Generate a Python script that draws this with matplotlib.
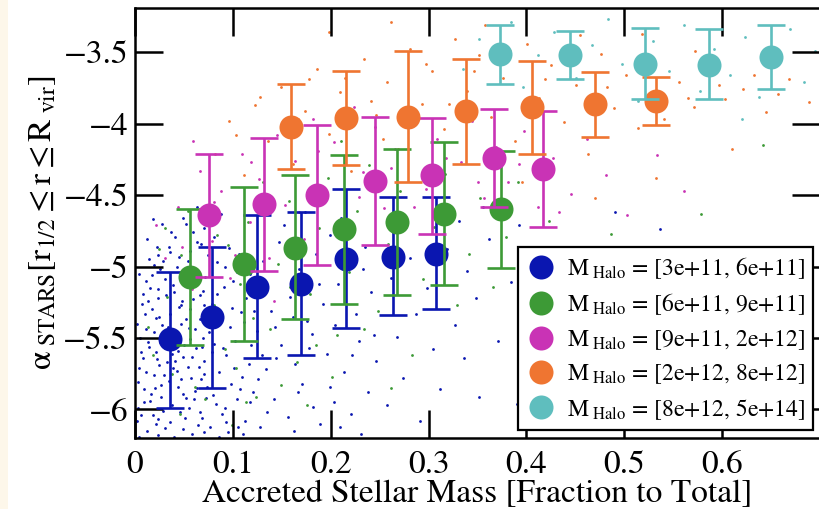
import matplotlib.pyplot as plt
from matplotlib.lines import Line2D
from matplotlib.patches import Rectangle

plt.rcParams['font.family'] = 'STIXGeneral'
plt.rcParams['mathtext.fontset'] = 'stix'

# halo mass bins
bin_labels = ['[3e+11, 6e+11]', '[6e+11, 9e+11]', '[9e+11, 2e+12]',
              '[2e+12, 8e+12]', '[8e+12, 5e+14]']
colors = ['#0a16b0', '#3d9a36', '#c933b5', '#ef7531', '#5fbebe']

# binned medians with upper / lower error limits
blue_x = [0.036, 0.079, 0.125, 0.170, 0.216, 0.264, 0.308]
blue_y = [-5.51, -5.35, -5.14, -5.12, -4.95, -4.93, -4.91]
blue_top = [-5.04, -4.86, -4.64, -4.62, -4.46, -4.51, -4.51]
blue_bot = [-5.99, -5.85, -5.64, -5.62, -5.43, -5.34, -5.30]

green_x = [0.056, 0.111, 0.164, 0.214, 0.268, 0.316, 0.374]
green_y = [-5.07, -4.98, -4.87, -4.74, -4.69, -4.63, -4.60]
green_top = [-4.60, -4.44, -4.36, -4.22, -4.18, -4.13, -4.19]
green_bot = [-5.55, -5.52, -5.37, -5.26, -5.20, -5.13, -5.01]

magenta_x = [0.076, 0.132, 0.186, 0.245, 0.304, 0.367, 0.417]
magenta_y = [-4.64, -4.56, -4.50, -4.40, -4.36, -4.24, -4.32]
magenta_top = [-4.21, -4.10, -4.01, -3.95, -3.96, -3.90, -3.91]
magenta_bot = [-5.07, -5.03, -4.99, -4.85, -4.77, -4.58, -4.72]

orange_x = [0.159, 0.216, 0.279, 0.338, 0.406, 0.470, 0.532]
orange_y = [-4.02, -3.96, -3.95, -3.91, -3.88, -3.86, -3.84]
orange_top = [-3.72, -3.63, -3.49, -3.55, -3.56, -3.64, -3.67]
orange_bot = [-4.32, -4.29, -4.41, -4.28, -4.21, -4.09, -4.01]

cyan_x = [0.373, 0.445, 0.521, 0.587, 0.650]
cyan_y = [-3.51, -3.52, -3.58, -3.59, -3.53]
cyan_top = [-3.31, -3.35, -3.33, -3.34, -3.31]
cyan_bot = [-3.72, -3.69, -3.83, -3.83, -3.76]

# individual galaxies (background cloud)
blue_pts = [
    (0.012, -6.15), (0.031, -6.13), (0.058, -6.17), (0.077, -6.12), (0.095, -6.16),
    (0.006, -6.04), (0.024, -6.07), (0.046, -6.02), (0.068, -6.06), (0.089, -6.03), (0.112, -6.08),
    (0.015, -5.94), (0.038, -5.97), (0.052, -5.92), (0.083, -5.96), (0.104, -5.93),
    (0.009, -5.86), (0.027, -5.83), (0.061, -5.87), (0.074, -5.84), (0.098, -5.82), (0.121, -5.88),
    (0.019, -5.76), (0.043, -5.73), (0.057, -5.78), (0.086, -5.74), (0.109, -5.77),
    (0.008, -5.64), (0.033, -5.67), (0.049, -5.63), (0.071, -5.66), (0.093, -5.62), (0.116, -5.68),
    (0.014, -5.56), (0.026, -5.53), (0.062, -5.57), (0.081, -5.54), (0.102, -5.52),
    (0.011, -5.44), (0.041, -5.47), (0.055, -5.43), (0.076, -5.46), (0.097, -5.42), (0.125, -5.45),
    (0.021, -5.36), (0.036, -5.33), (0.066, -5.37), (0.088, -5.34), (0.108, -5.32),
    (0.013, -5.24), (0.047, -5.27), (0.059, -5.23), (0.079, -5.26), (0.113, -5.22),
    (0.024, -5.16), (0.039, -5.13), (0.069, -5.17), (0.091, -5.14),
    (0.017, -5.06), (0.051, -5.03), (0.072, -5.07), (0.104, -5.04),
    (0.029, -4.96), (0.045, -4.93), (0.084, -4.97),
    (0.022, -4.86), (0.063, -4.83), (0.096, -4.87),
    (0.037, -4.76), (0.071, -4.73), (0.049, -4.66), (0.088, -4.63),
    (0.004, -6.19), (0.021, -6.10), (0.040, -6.19), (0.064, -6.11), (0.086, -6.19), (0.105, -6.12),
    (0.003, -5.99), (0.029, -6.01), (0.055, -5.99), (0.073, -5.92), (0.092, -5.99), (0.118, -5.95),
    (0.016, -5.89), (0.035, -5.80), (0.049, -5.89), (0.067, -5.79), (0.080, -5.90), (0.107, -5.86),
    (0.004, -5.71), (0.025, -5.69), (0.039, -5.71), (0.065, -5.70), (0.079, -5.60), (0.101, -5.71),
    (0.130, -5.62), (0.021, -5.60), (0.044, -5.59), (0.056, -5.51), (0.090, -5.57), (0.119, -5.55),
    (0.005, -5.50), (0.033, -5.49), (0.047, -5.40), (0.069, -5.50), (0.085, -5.41), (0.111, -5.39),
    (0.017, -5.30), (0.028, -5.41), (0.056, -5.30), (0.075, -5.32), (0.099, -5.29), (0.122, -5.31),
    (0.008, -5.19), (0.032, -5.20), (0.053, -5.12), (0.084, -5.19), (0.100, -5.10),
    (0.011, -5.10), (0.043, -5.00), (0.063, -5.10), (0.092, -5.00), (0.118, -5.05),
    (0.019, -4.99), (0.056, -4.89), (0.075, -4.92), (0.106, -4.91),
    (0.035, -4.86), (0.081, -4.79), (0.059, -4.76), (0.028, -4.70),
    (0.002, -6.08), (0.009, -5.95), (0.018, -6.04), (0.027, -5.91), (0.036, -6.09), (0.044, -5.84),
    (0.051, -6.06), (0.060, -5.93), (0.066, -6.02), (0.003, -5.81), (0.011, -5.74), (0.020, -5.85),
    (0.030, -5.76), (0.041, -5.66), (0.047, -5.79), (0.054, -5.70), (0.063, -5.85), (0.070, -5.75),
    (0.006, -5.60), (0.013, -5.53), (0.022, -5.65), (0.031, -5.57), (0.038, -5.61), (0.050, -5.55),
    (0.058, -5.63), (0.068, -5.56), (0.002, -5.40), (0.010, -5.33), (0.019, -5.46), (0.025, -5.35),
    (0.034, -5.42), (0.045, -5.28), (0.052, -5.37), (0.061, -5.44), (0.071, -5.27),
    (0.007, -5.26), (0.015, -5.15), (0.023, -5.22), (0.031, -5.09), (0.040, -5.18), (0.048, -5.24),
    (0.058, -5.07), (0.066, -5.20), (0.004, -5.05), (0.014, -4.95), (0.026, -5.02), (0.036, -4.90),
    (0.046, -5.08), (0.054, -4.96), (0.067, -4.84), (0.012, -4.81), (0.024, -4.92), (0.041, -4.79),
    (0.052, -4.70), (0.018, -4.67), (0.063, -4.58), (0.078, -4.69),
    (0.023, -6.18), (0.049, -6.14), (0.071, -6.16), (0.093, -6.09), (0.110, -6.17), (0.135, -6.02),
    (0.162, -6.15), (0.182, -5.98), (0.209, -6.12), (0.231, -6.17), (0.126, -5.79), (0.144, -5.64),
    (0.167, -5.88), (0.178, -5.57), (0.199, -5.84), (0.222, -5.62), (0.143, -5.42), (0.161, -5.35),
    (0.188, -5.12), (0.204, -5.41), (0.233, -5.02), (0.244, -5.48),
    (0.128, -6.12), (0.142, -5.93), (0.156, -6.05), (0.171, -5.82), (0.189, -6.10),
    (0.203, -5.95), (0.221, -6.03), (0.238, -5.88), (0.134, -5.72), (0.149, -5.55),
    (0.163, -5.68), (0.181, -5.47), (0.196, -5.61), (0.214, -5.74), (0.229, -5.52),
    (0.246, -5.66), (0.139, -5.31), (0.158, -5.21), (0.176, -5.38), (0.192, -5.26),
    (0.207, -5.12), (0.226, -5.33), (0.241, -5.18), (0.131, -4.96), (0.147, -4.83),
    (0.168, -5.02), (0.185, -4.91), (0.199, -4.78), (0.218, -4.98), (0.235, -4.86),
    (0.152, -4.71), (0.174, -4.62), (0.211, -4.66),
    (0.258, -5.97), (0.274, -5.78), (0.291, -6.08), (0.312, -5.86), (0.336, -5.64),
    (0.352, -5.91), (0.268, -5.49), (0.287, -5.33), (0.305, -5.58), (0.327, -5.41),
    (0.348, -5.22), (0.371, -5.52), (0.262, -5.08), (0.281, -4.94), (0.298, -5.15),
    (0.319, -4.88), (0.339, -5.03), (0.362, -4.81), (0.384, -5.11), (0.403, -4.92),
    (0.276, -4.72), (0.331, -4.68), (0.356, -4.58), (0.392, -4.71), (0.418, -5.31),
    (0.437, -5.07), (0.455, -4.86), (0.429, -5.68), (0.472, -5.44), (0.390, -5.96),
    (0.448, -5.82), (0.510, -5.18), (0.536, -4.74), (0.490, -4.62),
]
green_pts = [
    (0.018, -5.62), (0.033, -5.21), (0.047, -4.92), (0.061, -5.84), (0.069, -5.38),
    (0.084, -4.78), (0.092, -5.58), (0.107, -5.12), (0.115, -4.69), (0.124, -5.91),
    (0.138, -5.44), (0.146, -4.98), (0.157, -4.54), (0.166, -5.67), (0.179, -5.19),
    (0.188, -4.73), (0.197, -4.38), (0.206, -5.48), (0.219, -5.04), (0.227, -4.61),
    (0.239, -4.29), (0.248, -5.31), (0.259, -4.84), (0.271, -4.47), (0.283, -5.62),
    (0.294, -5.09), (0.306, -4.72), (0.317, -4.35), (0.329, -5.27), (0.341, -4.91),
    (0.353, -4.52), (0.366, -5.14), (0.379, -4.79), (0.391, -4.41), (0.405, -5.02),
    (0.423, -4.68), (0.441, -4.93), (0.046, -6.03), (0.099, -6.11), (0.176, -5.97),
    (0.025, -4.88), (0.054, -4.61), (0.131, -4.41), (0.211, -4.12), (0.262, -5.85),
    (0.486, -4.77), (0.578, -4.63), (0.642, -4.15),
    (0.013, -5.42), (0.038, -5.75), (0.072, -5.93), (0.081, -5.27), (0.103, -5.71),
    (0.121, -5.36), (0.149, -5.83), (0.158, -5.14), (0.185, -5.55), (0.201, -5.77),
    (0.234, -5.44), (0.031, -4.73), (0.095, -4.85), (0.113, -5.95),
]
magenta_pts = [
    (0.031, -4.94), (0.044, -4.58), (0.058, -5.16), (0.066, -4.33), (0.079, -4.82),
    (0.088, -4.47), (0.097, -5.08), (0.109, -4.21), (0.118, -4.69), (0.127, -4.39),
    (0.137, -4.94), (0.145, -4.08), (0.153, -4.57), (0.164, -4.26), (0.173, -4.81),
    (0.182, -3.97), (0.191, -4.44), (0.203, -4.13), (0.212, -4.68), (0.224, -3.88),
    (0.233, -4.34), (0.245, -4.02), (0.254, -4.59), (0.266, -4.18), (0.277, -4.72),
    (0.288, -3.93), (0.297, -4.46), (0.309, -4.11), (0.321, -4.63), (0.333, -4.27),
    (0.344, -3.98), (0.357, -4.52), (0.369, -4.16), (0.381, -4.41), (0.398, -4.05),
    (0.412, -4.58), (0.427, -4.24), (0.446, -4.49), (0.462, -4.11), (0.481, -4.36),
    (0.503, -4.64), (0.533, -4.22), (0.561, -4.47), (0.074, -5.31), (0.142, -5.24),
    (0.059, -4.12),
    (0.021, -4.71), (0.048, -4.86), (0.081, -4.55), (0.102, -4.92), (0.119, -4.27),
    (0.168, -4.62), (0.187, -4.19), (0.229, -4.51), (0.262, -4.31), (0.285, -4.58),
    (0.318, -4.24), (0.351, -4.41), (0.392, -4.28), (0.433, -4.62),
]
orange_pts = [
    (0.082, -4.21), (0.096, -3.98), (0.111, -4.36), (0.123, -3.87), (0.136, -4.12),
    (0.149, -3.74), (0.161, -4.28), (0.174, -3.91), (0.186, -3.62), (0.198, -4.07),
    (0.209, -3.78), (0.221, -4.33), (0.234, -3.55), (0.246, -3.94), (0.258, -3.71),
    (0.269, -4.18), (0.281, -3.48), (0.293, -3.86), (0.304, -3.63), (0.316, -4.04),
    (0.327, -3.41), (0.339, -3.77), (0.352, -3.52), (0.364, -3.95), (0.376, -3.68),
    (0.388, -4.12), (0.401, -3.44), (0.413, -3.82), (0.425, -3.59), (0.438, -3.99),
    (0.451, -3.73), (0.463, -4.21), (0.476, -3.51), (0.489, -3.89), (0.502, -3.66),
    (0.514, -4.03), (0.527, -3.79), (0.541, -3.97), (0.556, -3.71), (0.571, -3.88),
    (0.586, -3.64), (0.603, -3.83), (0.621, -3.76), (0.645, -3.92), (0.668, -3.69),
    (0.689, -3.85), (0.198, -3.36), (0.262, -3.29), (0.358, -3.31), (0.455, -3.38),
    (0.532, -4.38), (0.470, -4.52), (0.610, -4.18), (0.395, -4.41),
    (0.103, -4.08), (0.128, -3.81), (0.167, -3.97), (0.178, -3.69), (0.215, -3.68),
    (0.241, -3.84), (0.253, -4.11), (0.297, -3.58), (0.321, -3.86), (0.346, -3.63),
    (0.383, -3.49), (0.419, -3.69), (0.444, -3.56), (0.482, -3.74), (0.519, -3.58),
    (0.565, -3.82), (0.597, -3.73), (0.633, -3.66), (0.657, -3.79), (0.518, -3.37),
    (0.572, -3.49),
]
cyan_pts = [
    (0.335, -3.62), (0.352, -3.41), (0.384, -3.29), (0.397, -3.74), (0.412, -3.52),
    (0.428, -3.36), (0.451, -3.68), (0.467, -3.45), (0.483, -3.27), (0.498, -3.58),
    (0.514, -3.84), (0.529, -3.42), (0.546, -3.63), (0.561, -3.31), (0.577, -3.77),
    (0.592, -3.48), (0.608, -3.66), (0.623, -3.39), (0.638, -3.81), (0.654, -3.56),
    (0.669, -3.34), (0.684, -3.71), (0.695, -3.49), (0.470, -3.93), (0.620, -3.97),
]

binned = [
    (blue_x, blue_y, blue_top, blue_bot),
    (green_x, green_y, green_top, green_bot),
    (magenta_x, magenta_y, magenta_top, magenta_bot),
    (orange_x, orange_y, orange_top, orange_bot),
    (cyan_x, cyan_y, cyan_top, cyan_bot),
]
clouds = [blue_pts, green_pts, magenta_pts, orange_pts, cyan_pts]

fig = plt.figure(figsize=(8.19, 5.09), dpi=100)
fig.patches.append(Rectangle((0, 0), 8 / 819, 1, transform=fig.transFigure,
                             facecolor='#fdf7ea', edgecolor='none', zorder=0))
ax = fig.add_axes([135 / 819, 71 / 509, 685 / 819, 430 / 509])

for pts, c in zip(clouds, colors):
    px, py = zip(*pts)
    ax.scatter(px, py, s=4, color=c, linewidths=0, marker='o', zorder=1)

handles = []
for i, ((x, y, top, bot), c, lab) in enumerate(zip(binned, colors, bin_labels)):
    err = [[yy - b for yy, b in zip(y, bot)], [t - yy for yy, t in zip(y, top)]]
    ax.errorbar(x, y, yerr=err, fmt='none', ecolor=c, elinewidth=1.9,
                capsize=10, capthick=1.9, zorder=3 + i)
    ax.plot(x, y, 'o', color=c, ms=17.3, mew=0, zorder=3 + i)
    handles.append(Line2D([], [], ls='none', marker='o', ms=17.3, mew=0, color=c,
                          label=r'$\mathrm{M}_{\ \mathrm{Halo}}$ = ' + lab))

ax.set_xlim(0, 0.7)
ax.set_ylim(-6.2, -3.19)
ax.set_xticks([0, 0.1, 0.2, 0.3, 0.4, 0.5, 0.6])
ax.set_xticklabels(['0', '0.1', '0.2', '0.3', '0.4', '0.5', '0.6'])
ax.set_yticks([-6, -5.5, -5, -4.5, -4, -3.5])
ax.set_yticklabels(['\u22126', '\u22125.5', '\u22125', '\u22124.5', '\u22124', '\u22123.5'])
ax.tick_params(direction='in', length=20, width=1.8, top=True, right=True,
               labelsize=24)
ax.tick_params(axis='x', pad=9)
ax.tick_params(axis='y', pad=5)
for s in ax.spines.values():
    s.set_linewidth(1.8)

ax.set_xlabel('Accreted Stellar Mass [Fraction to Total]', fontsize=24, labelpad=0)
ax.set_ylabel(r'$\mathrm{\alpha}_{\ \mathrm{STARS}}[\mathrm{r}_{1/2} \leq \mathrm{r} \leq \mathrm{R}_{\ \mathrm{vir}}]$',
              fontsize=24, labelpad=4)

leg = ax.legend(handles=handles, loc='lower right', bbox_to_anchor=(0.99, 0.019),
                borderaxespad=0, fontsize=17, fancybox=False, framealpha=1,
                edgecolor='black', handletextpad=0.5, labelspacing=0.45,
                borderpad=0.35, handlelength=1.2)
leg.get_frame().set_linewidth(1.6)
leg.set_zorder(10)

fig.savefig('out.png', dpi=100)
